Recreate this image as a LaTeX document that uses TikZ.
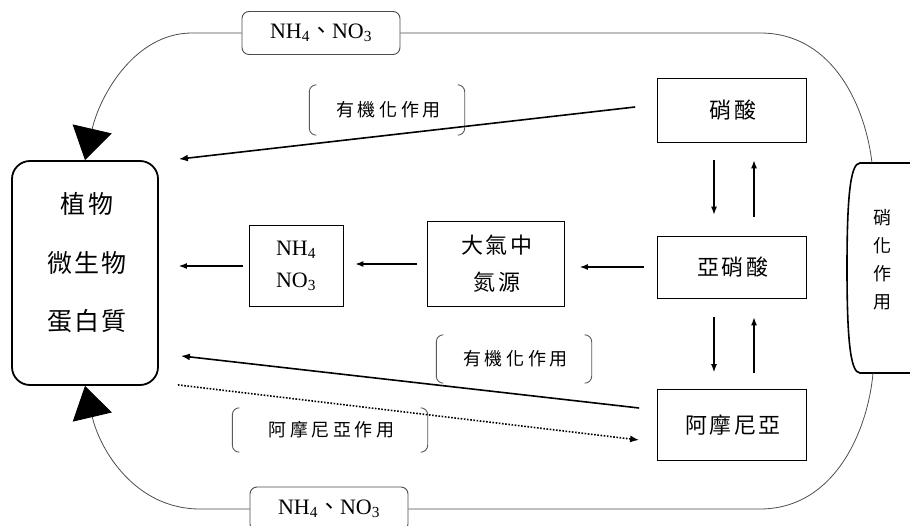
\documentclass[tikz,border=0pt]{standalone}
\usepackage{fontspec}
\setmainfont{Liberation Serif}
\newfontfamily\cjk{Noto Sans CJK TC}
\newfontfamily\cjksp{Noto Sans CJK TC}[LetterSpace=10]
\newfontfamily\cjkwide{Noto Sans CJK TC}[LetterSpace=20]
\usetikzlibrary{arrows.meta,calc}
\newcommand\brkdraw[1]{%
  \draw[brkline] ([xshift=7pt]#1.north west) to[out=180,in=90] ([yshift=-7pt]#1.north west) -- ([yshift=7pt]#1.south west) to[out=-90,in=180] ([xshift=7pt]#1.south west);
  \draw[brkline] ([xshift=-7pt]#1.north east) to[out=0,in=90] ([yshift=-7pt]#1.north east) -- ([yshift=7pt]#1.south east) to[out=-90,in=0] ([xshift=-7pt]#1.south east);}
\begin{document}
\begin{tikzpicture}[x=1pt,y=-1pt,
  arr/.style={line width=1.1pt,-{Latex[length=8pt,width=6pt]}},
  longarr/.style={line width=1.6pt,-{Latex[length=9pt,width=7pt]}},
  loopline/.style={draw=black!70,line width=0.8pt},
  bigtip/.style={-{Triangle[length=32pt,width=40pt,color=black]}},
  bigbox/.style={draw,line width=1.8pt,rounded corners=18pt,minimum width=146,minimum height=224},
  bigtxt/.style={align=center,font={\cjksp\fontsize{25}{58.5}\selectfont}},
  box/.style={draw,line width=0.8pt,align=center,font={\cjksp\fontsize{22}{37}\selectfont}},
  latinbox/.style={draw,line width=0.8pt,align=center,font={\fontsize{22}{32}\selectfont}},
  lbox/.style={draw=black!70,line width=0.9pt,rounded corners=7pt,fill=white,font={\fontsize{22}{24}\selectfont}},
  brk/.style={font={\cjkwide\fontsize{18}{20}\selectfont}},
  brkline/.style={draw=black!65,line width=0.9pt},
  vtxt/.style={align=center,font={\cjk\fontsize{18}{28}\selectfont}}
]
\useasboundingbox (0,0) rectangle (910,526);
\clip (0,0) rectangle (910,526);

% main nodes
\node[bigbox] (big) at (85,273) {};
\node[bigtxt] (bigt) at (87,263) {植物\\微生物\\蛋白質};
\node[box,minimum width=149,minimum height=64] (s1) at (732,110) {\hspace*{2pt}硝酸};
\node[box,minimum width=149,minimum height=62] (s2) at (732,267) {\hspace*{2pt}亞硝酸};
\node[box,minimum width=149,minimum height=71] (s3) at (732,425) {\hspace*{2pt}阿摩尼亞};
\node[box,minimum width=137,minimum height=85] (air) at (496,264) {\hspace*{2pt}大氣中\\\hspace*{2pt}氮源};
\node[latinbox,minimum width=94,minimum height=81] (nh) at (296,266) {NH\textsubscript{4}\\NO\textsubscript{3}};

% labels on the loop
\node[lbox,minimum width=158,minimum height=43] (t) at (321,33) {NH\textsubscript{4}{\cjk 、}NO\textsubscript{3}};
\node[lbox,minimum width=158,minimum height=44] (b) at (329,509) {NH\textsubscript{4}{\cjk 、}NO\textsubscript{3}};

% bracket labels
\node[brk,minimum width=155,minimum height=50] (L1) at (387,110) {\hspace*{3pt}有機化作用};
\node[brk,minimum width=155,minimum height=48] (L2) at (514,359) {\hspace*{3pt}有機化作用};
\node[brk,minimum width=195,minimum height=44] (L3) at (330,430) {\hspace*{3pt}阿摩尼亞作用};
\brkdraw{L1}
\brkdraw{L2}
\brkdraw{L3}

% nitrification shape on the right
\node[vtxt] (nit) at (882,260) {硝\\化\\作\\用};
\coordinate (nt) at (872,163);
\coordinate (nb) at (873,373);
\draw[line width=1.6pt] (912,163) -- (860,163) .. controls (850,163) and (847,200) .. (847,268) .. controls (847,336) and (850,373) .. (860,373) -- (912,373);

% outer loop
\draw[loopline] (t.east) -- (760,33) .. controls (835,33) and (866,110) .. (nt);
\draw[loopline] (b.east) -- (760,509) .. controls (835,509) and (868,430) .. (nb);
\draw[loopline,bigtip] (t.west) -- (192,33) .. controls (135,33) and (100,95) .. (big.north);
\draw[loopline,bigtip] (b.west) -- (200,509) .. controls (135,509) and (100,450) .. (big.south);

% vertical arrows
\draw[arr,shorten <=18pt,shorten >=21pt] ([xshift=-18pt]s1.south) -- ([xshift=-18pt]s2.north);
\draw[arr,shorten <=19pt,shorten >=18pt] ([xshift=22pt]s2.north) -- ([xshift=22pt]s1.south);
\draw[arr,shorten <=19pt,shorten >=17pt] ([xshift=-18pt]s2.south) -- ([xshift=-18pt]s3.north);
\draw[arr,shorten <=16pt,shorten >=19pt] ([xshift=22pt]s3.north) -- ([xshift=22pt]s2.south);

% horizontal arrows
\draw[arr,shorten <=13pt,shorten >=15pt] (s2.west) -- (s2.west -| air.east);
\draw[arr,shorten <=10pt,shorten >=12pt] (air.west) -- (air.west -| nh.east);
\draw[arr,shorten <=6pt,shorten >=20pt] (nh.west) -- (nh.west -| big.east);

% long arrows
\draw[longarr] ([shift={(-22,-3)}]s1.west) -- ([shift={(20,-1)}]big.north east);
\draw[longarr] ([shift={(-18,-17)}]s3.west) -- ([shift={(22,-30)}]big.south east);
\draw[line width=1.6pt,dash pattern=on 1.6pt off 1.6pt,-{Latex[length=9pt,width=7pt]}] ([shift={(19,-1)}]big.south east) -- ([shift={(-18,15)}]s3.west);
\end{tikzpicture}
\end{document}
